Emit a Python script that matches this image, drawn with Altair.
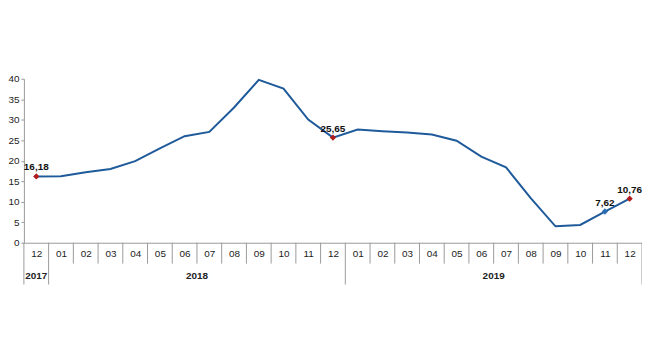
import altair as alt
import pandas as pd

months = ["12", "01", "02", "03", "04", "05", "06", "07", "08", "09", "10", "11", "12",
          "01", "02", "03", "04", "05", "06", "07", "08", "09", "10", "11", "12"]
values = [16.18, 16.2, 17.2, 18.0, 19.9, 23.0, 26.0, 27.05, 33.0, 39.75, 37.6, 30.05, 25.65,
          27.6, 27.2, 26.9, 26.4, 24.9, 21.0, 18.4, 10.9, 4.0, 4.35, 7.62, 10.76]

hl_idx = [0, 12, 23, 24]
hl_color = ["#b01c1c", "#b01c1c", "#2e6db4", "#b01c1c"]
hl_text = ["16,18", "25,65", "7,62", "10,76"]
hl_dx = [0, 4, 1, -3]

years = ["2017", "2018", "2019"]
year_pos = [0, 6.5, 18.5]

short_bounds = [i + 0.5 for i in range(1, 24) if i != 12]
long_bounds = [-0.5, 0.5, 12.5, 24.5]

df = pd.DataFrame({"idx": list(range(len(values))), "month": months, "value": values})
hl = pd.DataFrame({
    "idx": hl_idx,
    "value": [values[i] for i in hl_idx],
    "color": hl_color,
    "text": hl_text,
    "dx": hl_dx,
})
yr = pd.DataFrame({"pos": year_pos, "year": years})
sb = pd.DataFrame({"b": short_bounds})
lb = pd.DataFrame({"b": long_bounds})

H = 165
W = 622
xscale = alt.Scale(domain=[-0.5, 24.5], nice=False, zero=False)
yscale = alt.Scale(domain=[0, 40], nice=False)

label_arr = "[" + ",".join("'%s'" % m for m in months) + "]"

x_axis = alt.Axis(
    values=list(range(25)), labelExpr=label_arr + "[datum.value]", ticks=False, grid=False,
    domainColor="#9a9a9a", labelFont="Liberation Sans", labelFontSize=10, labelColor="#222222",
    labelPadding=6, title=None, labelFlush=False, labelOverlap=False, labelBound=False,
)
y_axis = alt.Axis(
    values=list(range(0, 45, 5)), grid=False, tickSize=3, tickColor="#9a9a9a",
    domainColor="#9a9a9a", labelFont="Liberation Sans", labelFontSize=10, labelColor="#222222",
    labelPadding=2, title=None, labelOverlap=False, labelFlush=False, labelBound=False,
)

line = alt.Chart(df).mark_line(color="#1f5a9a", strokeWidth=2).encode(
    x=alt.X("idx:Q", scale=xscale, axis=x_axis),
    y=alt.Y("value:Q", scale=yscale, axis=y_axis),
)

pts = alt.Chart(hl).mark_point(shape="diamond", filled=True, size=40, opacity=1).encode(
    x=alt.X("idx:Q", scale=xscale, axis=x_axis),
    y=alt.Y("value:Q", scale=yscale, axis=y_axis),
    color=alt.Color("color:N", scale=None),
)

txt = alt.Chart(hl).mark_text(
    font="Liberation Sans", fontSize=10, fontWeight="bold", color="#111111", dy=-9
).encode(
    x=alt.X("idx:Q", scale=xscale, axis=x_axis),
    y=alt.Y("value:Q", scale=yscale, axis=y_axis),
    text="text:N",
    xOffset=alt.XOffset("dx:Q", scale=None),
)

short_rules = alt.Chart(sb).mark_rule(color="#9a9a9a", strokeWidth=1).encode(
    x=alt.X("b:Q", scale=xscale, axis=x_axis),
    y=alt.value(H),
    y2=alt.value(H + 21),
)
long_rules = alt.Chart(lb).mark_rule(color="#9a9a9a", strokeWidth=1).encode(
    x=alt.X("b:Q", scale=xscale, axis=x_axis),
    y=alt.value(H),
    y2=alt.value(H + 42),
)

year_txt = alt.Chart(yr).mark_text(
    font="Liberation Sans", fontSize=10, fontWeight="bold", color="#222222"
).encode(
    x=alt.X("pos:Q", scale=xscale, axis=x_axis),
    y=alt.value(H + 33),
    text="year:N",
)

chart = alt.layer(line, short_rules, long_rules, pts, txt, year_txt).properties(
    width=W, height=H,
    autosize=alt.AutoSizeParams(type="none"),
    padding={"left": 16, "top": 70.3, "right": 0, "bottom": 60},
).configure_view(stroke=None)

chart.save("out.html", embed_options={"renderer": "svg", "actions": False})
